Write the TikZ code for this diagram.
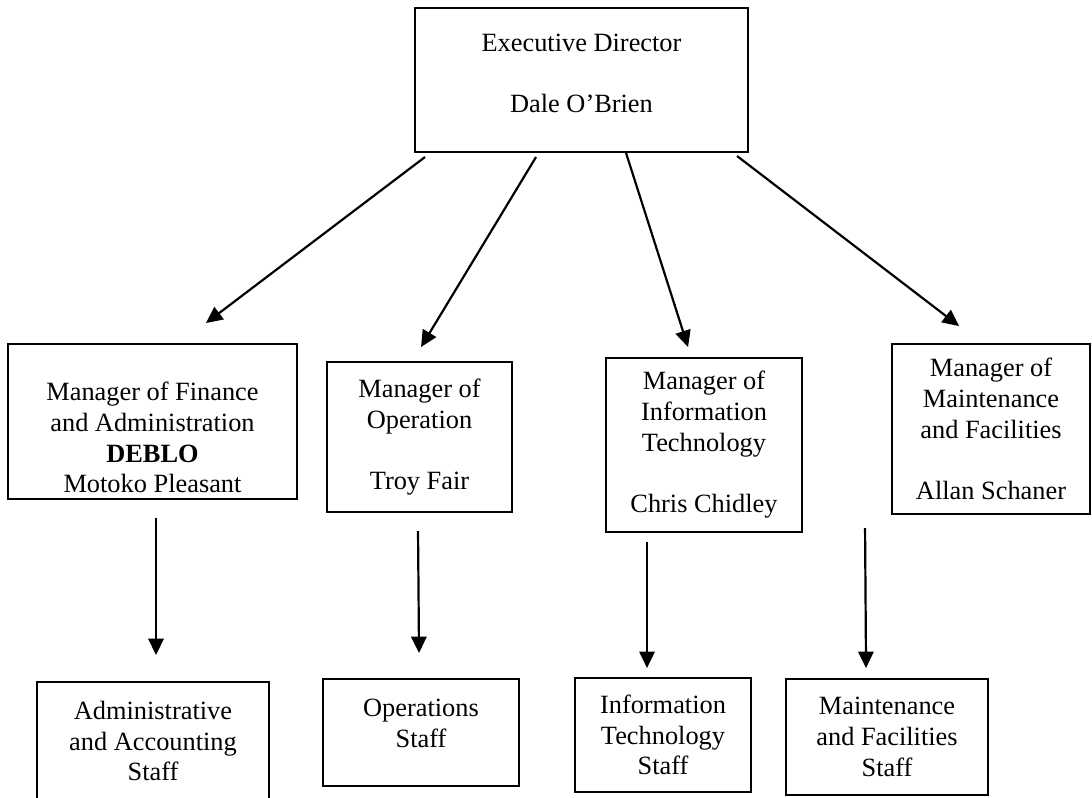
\documentclass[tikz,border=0pt]{standalone}
\usepackage{fontspec}
\setmainfont{Liberation Serif}
\usepackage{tikz}
\usetikzlibrary{arrows.meta}
\pgfdeclarelayer{nodelayer}
\pgfdeclarelayer{edgelayer}
\pgfsetlayers{nodelayer,edgelayer,main}
\tikzset{
  box/.style={draw, rectangle, line width=0.9pt, align=center, inner sep=0pt},
  point/.style={inner sep=0pt, minimum size=0pt},
  reports/.style={line width=1pt, -{Triangle[width=7pt, length=7.5pt]}}
}

\begin{document}
\begin{tikzpicture}[scale=0.8, font=\fontsize{12pt}{14pt}\selectfont]
  \useasboundingbox (0, 0) rectangle (21.84, -15.94);
  \begin{pgfonlayer}{nodelayer}
    \node [box, minimum width=151.4pt, minimum height=65.5pt] (0) at (11.63, -1.6) {Executive Director\\[14pt]Dale O’Brien\rule[-6pt]{0pt}{0pt}};
    \node [box, minimum width=131.4pt, minimum height=70.5pt] (1) at (3.05, -8.43) {\rule{0pt}{23pt}Manager of Finance\\and Administration\\\textbf{DEBLO}\\Motoko Pleasant};
    \node [box, minimum width=84.1pt, minimum height=68.2pt] (2) at (8.39, -8.74) {Manager of\\Operation\\[14pt]Troy Fair};
    \node [box, minimum width=89.1pt, minimum height=79.1pt] (3) at (14.08, -8.9) {Manager of\\Information\\Technology\\[14pt]Chris Chidley};
    \node [box, minimum width=90pt, minimum height=77.3pt] (4) at (19.82, -8.58) {Manager of\\Maintenance\\and Facilities\\[14pt]Allan Schaner};
    \node [box, minimum width=105.5pt, minimum height=53.7pt] (5) at (3.06, -14.82) {Administrative\\and Accounting\\Staff};
    \node [box, minimum width=89.1pt, minimum height=48.6pt] (6) at (8.42, -14.65) {Operations\\Staff\rule[-8.6pt]{0pt}{0pt}};
    \node [box, minimum width=80pt, minimum height=51.8pt] (7) at (13.26, -14.7) {Information\\Technology\\Staff};
    \node [box, minimum width=91.8pt, minimum height=52.7pt] (8) at (17.74, -14.74) {Maintenance\\and Facilities\\Staff};
    \node [point] (9) at (8.5, -3.14) {};
    \node [point] (10) at (4.12, -6.46) {};
    \node [point] (11) at (10.72, -3.14) {};
    \node [point] (12) at (8.42, -6.94) {};
    \node [point] (13) at (12.52, -3.06) {};
    \node [point] (14) at (13.76, -6.94) {};
    \node [point] (15) at (14.74, -3.12) {};
    \node [point] (16) at (19.18, -6.52) {};
    \node [point] (17) at (3.12, -10.36) {};
    \node [point] (18) at (3.12, -13.1) {};
    \node [point] (19) at (8.36, -10.62) {};
    \node [point] (20) at (8.38, -13.06) {};
    \node [point] (21) at (12.94, -10.84) {};
    \node [point] (22) at (12.94, -13.36) {};
    \node [point] (23) at (17.3, -10.56) {};
    \node [point] (24) at (17.32, -13.36) {};
  \end{pgfonlayer}
  \begin{pgfonlayer}{edgelayer}
    \draw [reports] (9.center) to (10.center);
    \draw [reports] (11.center) to (12.center);
    \draw [reports] (13.center) to (14.center);
    \draw [reports] (15.center) to (16.center);
    \draw [reports] (17.center) to (18.center);
    \draw [reports] (19.center) to (20.center);
    \draw [reports] (21.center) to (22.center);
    \draw [reports] (23.center) to (24.center);
  \end{pgfonlayer}
\end{tikzpicture}
\end{document}
